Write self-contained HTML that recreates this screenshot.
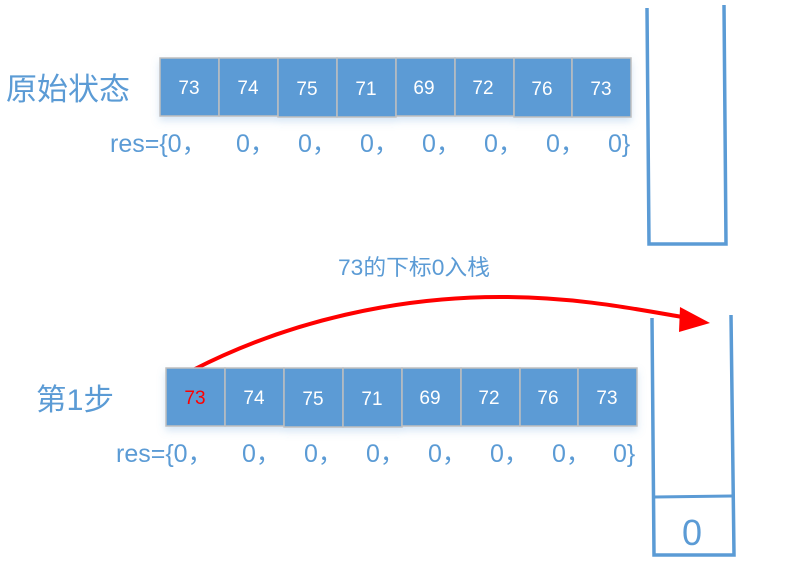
<!DOCTYPE html>
<html><head><meta charset="utf-8"><style>
html,body{margin:0;padding:0;background:#fff;}
svg{display:block;}
text{font-family:"Liberation Sans","Noto Sans CJK SC",sans-serif;}
</style></head><body>
<svg width="786" height="578" viewBox="0 0 786 578" xmlns="http://www.w3.org/2000/svg">
<defs>
<filter id="sh" x="-5%" y="-20%" width="110%" height="160%"><feDropShadow dx="0" dy="4" stdDeviation="4" flood-color="#5b9bd5" flood-opacity="0.25"/></filter>
</defs>
<!-- top -->
<text x="6" y="100" font-size="31" fill="#5b9bd5">原始状态</text>
<g filter="url(#sh)" stroke="#bfbfbf" stroke-width="1.5" fill="#5b9bd5">
<rect x="160" y="58" width="59" height="58"/><rect x="219" y="58" width="59" height="58"/><rect x="278" y="58" width="59" height="59"/><rect x="337" y="58" width="59" height="59"/><rect x="396" y="58" width="59" height="58"/><rect x="455" y="58" width="59" height="58"/><rect x="514" y="58" width="58" height="59"/><rect x="572" y="58" width="59" height="59"/>
</g>
<g font-size="19" fill="#fff" text-anchor="middle">
<text x="189" y="94">73</text><text x="248" y="94">74</text><text x="307" y="95">75</text><text x="366" y="95">71</text><text x="424" y="94">69</text><text x="483" y="94">72</text><text x="542" y="95">76</text><text x="601" y="95">73</text>
</g>
<g font-size="25" fill="#5b9bd5">
<text x="110" y="152">res={0，</text><text x="236" y="152">0，</text><text x="298" y="152">0，</text><text x="360" y="152">0，</text><text x="422" y="152">0，</text><text x="484" y="152">0，</text><text x="546" y="152">0，</text><text x="608" y="152">0}</text>
</g>
<path d="M647 8 L649 244 L726 244 L724 5" fill="none" stroke="#5b9bd5" stroke-width="3.5"/>
<!-- label -->
<text x="338" y="275" font-size="22" fill="#5b9bd5" textLength="152" lengthAdjust="spacingAndGlyphs">73的下标0入栈</text>
<!-- arrow -->
<path d="M193 370 C290 320 400 297 500 297 C580 297 640 310 688 318" fill="none" stroke="#ff0000" stroke-width="4"/>
<polygon points="680,307 710,323 679,332" fill="#ff0000"/>
<!-- bottom -->
<text x="36" y="410" font-size="30" fill="#5b9bd5" textLength="78" lengthAdjust="spacingAndGlyphs">第1步</text>
<g filter="url(#sh)" stroke="#bfbfbf" stroke-width="1.5" fill="#5b9bd5">
<rect x="166" y="368" width="59" height="58"/><rect x="225" y="368" width="59" height="58"/><rect x="284" y="368" width="59" height="59"/><rect x="343" y="368" width="59" height="59"/><rect x="402" y="368" width="59" height="58"/><rect x="461" y="368" width="59" height="58"/><rect x="520" y="368" width="58" height="58"/><rect x="578" y="368" width="59" height="58"/>
</g>
<g font-size="19" fill="#fff" text-anchor="middle">
<text x="195" y="404" fill="#ff0000">73</text><text x="254" y="404">74</text><text x="313" y="405">75</text><text x="372" y="405">71</text><text x="430" y="404">69</text><text x="489" y="404">72</text><text x="548" y="404">76</text><text x="607" y="404">73</text>
</g>
<g font-size="25" fill="#5b9bd5">
<text x="116" y="462">res={0，</text><text x="242" y="462">0，</text><text x="304" y="462">0，</text><text x="366" y="462">0，</text><text x="428" y="462">0，</text><text x="490" y="462">0，</text><text x="552" y="462">0，</text><text x="613" y="462">0}</text>
</g>
<path d="M652 318 L654 555 L734 555 L731 315" fill="none" stroke="#5b9bd5" stroke-width="3.5"/>
<line x1="654" y1="497" x2="732" y2="496" stroke="#5b9bd5" stroke-width="3"/>
<text x="692" y="545" font-size="36" fill="#5b9bd5" text-anchor="middle">0</text>
</svg>
</body></html>
